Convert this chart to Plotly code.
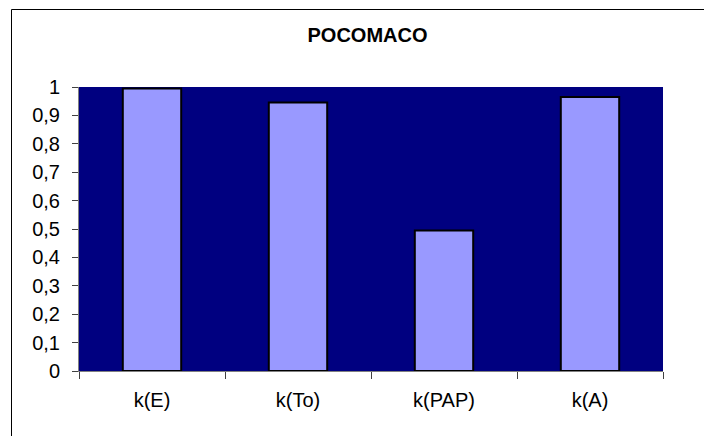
import plotly.graph_objects as go

categories = ["k(E)", "k(To)", "k(PAP)", "k(A)"]
values = [0.995, 0.945, 0.495, 0.965]
y_tickvals = [0, 0.1, 0.2, 0.3, 0.4, 0.5, 0.6, 0.7, 0.8, 0.9, 1]
y_ticktext = ["0", "0,1", "0,2", "0,3", "0,4", "0,5", "0,6", "0,7", "0,8", "0,9", "1"]
title_text = "POCOMACO"

# page body has an 8px margin; the figure starts at (8, 8) in the window
OFF = 8
W, H = 712 - OFF, 436 - OFF
L, T = 79 - OFF, 87 - OFF
R = W - (663 - OFF)
B = H - (371 - OFF)
pw, ph = W - L - R, H - T - B

def px_x(px):
    return (px - OFF - L) / pw

def px_y(py):
    return (H - B - (py - OFF)) / ph

fig = go.Figure(
    go.Bar(
        x=categories,
        y=values,
        width=0.4,
        marker=dict(color="#9999FF", line=dict(color="#000000", width=2)),
    )
)

border = dict(color="#000000", width=1)
fig.update_layout(
    width=W,
    height=H,
    margin=dict(l=L, r=R, t=T, b=B),
    paper_bgcolor="#FFFFFF",
    plot_bgcolor="#000080",
    font=dict(family="Liberation Sans, Arial, sans-serif", size=20, color="#000000"),
    title=dict(
        text="<b>" + title_text + "</b>",
        x=px_x(367.5),
        xref="paper",
        xanchor="center",
        y=1 - (35 - OFF) / H,
        yanchor="middle",
        font=dict(size=20, color="#000000"),
    ),
    showlegend=False,
    shapes=[
        dict(type="line", xref="paper", yref="paper",
             x0=px_x(11.5), x1=px_x(11.5), y0=px_y(9.5), y1=px_y(445),
             line=border, layer="below"),
        dict(type="line", xref="paper", yref="paper",
             x0=px_x(11.5), x1=px_x(720), y0=px_y(9.5), y1=px_y(9.5),
             line=border, layer="below"),
    ],
)

fig.update_xaxes(
    type="category",
    showgrid=False,
    showline=True,
    linecolor="#808080",
    linewidth=1,
    ticks="outside",
    tickson="boundaries",
    ticklen=7,
    tickcolor="#404040",
    tickfont=dict(size=20),
    ticklabelstandoff=11,
    zeroline=False,
)

fig.update_yaxes(
    range=[0, 1],
    tickvals=y_tickvals,
    ticktext=y_ticktext,
    showgrid=False,
    showline=True,
    linecolor="#808080",
    linewidth=1,
    ticks="outside",
    ticklen=6,
    tickcolor="#404040",
    tickfont=dict(size=20),
    ticklabelstandoff=8,
    zeroline=False,
)

fig.write_html(
    "out.html",
    post_script="document.documentElement.style.overflow='hidden';document.body.style.overflow='hidden';",
)
